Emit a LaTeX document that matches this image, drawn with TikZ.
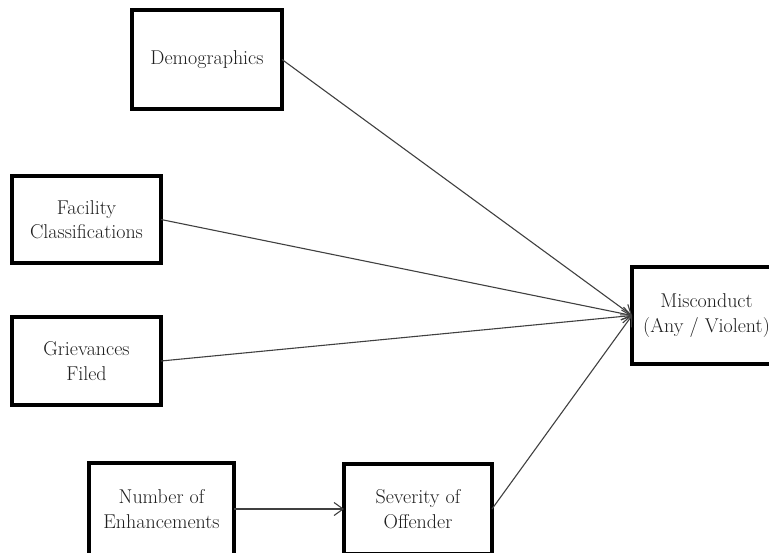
\documentclass[tikz,border=0pt]{standalone}
\usepackage{fontspec}
\usetikzlibrary{arrows.meta}
\begin{document}
\begin{tikzpicture}[x=1pt,y=-1pt,
  box/.style={draw=black, line width=3.2pt, fill=white, align=center,
    inner sep=0pt, outer sep=0pt, text=black!88,
    font=\rmfamily\fontsize{20}{24.5}\selectfont},
  link/.style={draw=black!75, line width=1.1pt,
    -{Straight Barb[length=9pt,width=13pt]}}]
\useasboundingbox (0,0) rectangle (769,552);
\clip (0,0) rectangle (769,552);

% predictor boxes
\node[box, minimum width=150pt, minimum height=99pt] (demo) at (207,59.5) {Demographics};
\node[box, minimum width=149pt, minimum height=87pt] (facility) at (86.5,219.5) {Facility\\Classifications};
\node[box, minimum width=149pt, minimum height=88pt] (griev) at (86.5,361) {Grievances\\Filed};
\node[box, minimum width=145pt, minimum height=92pt] (enh) at (161.5,509) {Number of\\Enhancements};
\node[box, minimum width=148pt, minimum height=90pt] (sev) at (418,509) {Severity of\\Offender};

% outcome box
\node[box, minimum width=149pt, minimum height=97pt] (misc) at (706.5,315.5) {Misconduct\\(Any / Violent)};

% paths
\draw[link] (demo.east) -- (misc.west);
\draw[link] (facility.east) -- (misc.west);
\draw[link] (griev.east) -- (misc.west);
\draw[link] (sev.east) -- (misc.west);
\draw[link] (enh.east) -- (sev.west);
\end{tikzpicture}
\end{document}
